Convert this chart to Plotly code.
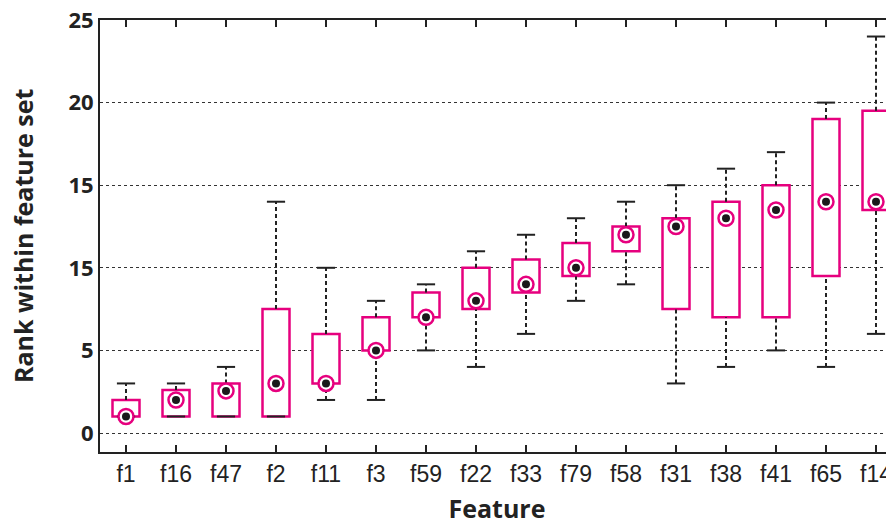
import plotly.graph_objects as go

features = ["f1", "f16", "f47", "f2", "f11", "f3", "f59", "f22", "f33", "f79",
            "f58", "f31", "f38", "f41", "f65", "f14"]
mins    = [1, 1, 1, 1, 2, 2, 5, 4, 6, 8, 9, 3, 4, 5, 4, 6]
q1s     = [1, 1, 1, 1, 3, 5, 7, 7.5, 8.5, 9.5, 11, 7.5, 7, 7, 9.5, 13.5]
medians = [1, 2, 2.55, 3, 3, 5, 7, 8, 9, 10, 12, 12.5, 13, 13.5, 14, 14]
q3s     = [2, 2.6, 3, 7.5, 6, 7, 8.5, 10, 10.5, 11.5, 12.5, 13, 14, 15, 19, 19.5]
maxs    = [3, 3, 4, 14, 10, 8, 9, 11, 12, 13, 14, 15, 16, 17, 20, 24]

ytick_vals = [0, 5, 10, 15, 20, 25]
ytick_text = ["0", "5", "15", "15", "20", "25"]

MAGENTA = "#E6007E"

idx = list(range(len(features)))

# whiskers
wx, wy = [], []
for i in idx:
    if maxs[i] > q3s[i]:
        wx += [i, i, None]
        wy += [q3s[i], maxs[i], None]
    if mins[i] < q1s[i]:
        wx += [i, i, None]
        wy += [mins[i], q1s[i], None]

cx = idx + idx
cy = maxs + mins

fig = go.Figure()
fig.add_trace(go.Scatter(x=wx, y=wy, mode="lines",
                         line=dict(color="#222222", width=2, dash="4px,3px"),
                         hoverinfo="skip", showlegend=False))
fig.add_trace(go.Scatter(x=cx, y=cy, mode="markers",
                         marker=dict(symbol="line-ew", size=13,
                                     line=dict(color="#222222", width=2)),
                         hoverinfo="skip", showlegend=False))
fig.add_trace(go.Bar(x=idx, y=[q3s[i] - q1s[i] for i in idx], base=q1s,
                     width=0.54,
                     marker=dict(color="white", line=dict(color=MAGENTA, width=2.5)),
                     showlegend=False))
fig.add_trace(go.Scatter(x=idx, y=medians, mode="markers",
                         marker=dict(symbol="circle", size=15, color="white",
                                     line=dict(color=MAGENTA, width=2.5)),
                         showlegend=False))
fig.add_trace(go.Scatter(x=idx, y=medians, mode="markers",
                         marker=dict(symbol="circle", size=8, color="#1a1a1a"),
                         showlegend=False))

fig.update_layout(
    width=886, height=517,
    margin=dict(l=92, r=0, t=12, b=73, autoexpand=False),
    plot_bgcolor="white", paper_bgcolor="white",
    barmode="overlay",
    font=dict(family="Liberation Sans, Arial, sans-serif", color="#222222"),
    annotations=[dict(
        text="<b>Rank within feature set</b>", textangle=-90,
        xref="paper", yref="paper", x=0, y=0.5, xshift=-77,
        xanchor="center", yanchor="middle", showarrow=False,
        font=dict(size=25, family="Open Sans, sans-serif", color="#222222"),
    )],
)
fig.update_xaxes(
    range=[-0.52, 15.36], automargin=True,
    tickmode="array", tickvals=idx, ticktext=features,
    ticks="inside", ticklen=7, tickwidth=1.5, tickcolor="#222222",
    showline=True, linecolor="#222222", linewidth=2, mirror="ticks",
    showgrid=False, zeroline=False,
    tickfont=dict(size=23, family="Liberation Sans, Arial, sans-serif"),
    title=dict(text="<b>Feature</b>", font=dict(size=25, family="Open Sans, sans-serif"),
               standoff=18),
)
fig.update_yaxes(
    range=[-1.15, 25], automargin=False, ticklabeloverflow="allow",
    tickmode="array", tickvals=ytick_vals, ticktext=ytick_text,
    ticks="", showline=True, linecolor="#222222", linewidth=2,
    showgrid=True, gridcolor="#333333", gridwidth=1, griddash="dot",
    zeroline=False,
    tickfont=dict(size=22, family="Open Sans, sans-serif", weight="bold"),
)

fig.write_html("out.html")
